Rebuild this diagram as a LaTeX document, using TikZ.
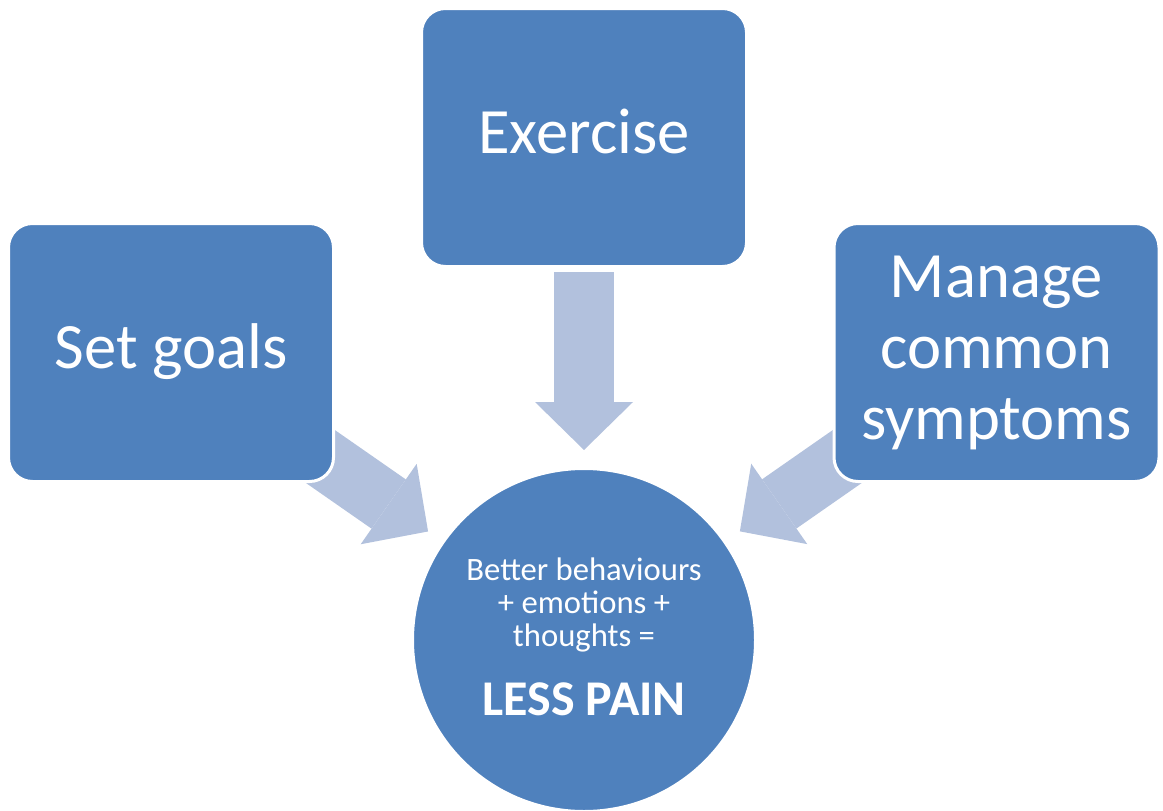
\documentclass[tikz,border=0pt]{standalone}
\usepackage{fontspec}
\setmainfont{Carlito}
\usetikzlibrary{arrows.meta,backgrounds}
\definecolor{boxblue}{HTML}{4F81BD}
\definecolor{flowblue}{HTML}{B2C1DD}
\begin{document}
\begin{tikzpicture}[x=0.75pt,y=-0.75pt,
  stepbox/.style={rectangle, rounded corners=18pt, fill=boxblue, draw=white,
    line width=2.25pt, minimum width=243.75pt, minimum height=193.5pt,
    inner sep=0pt, text=white, align=center,
    font=\fontsize{48.5}{53.25}\selectfont, text height=36.4pt, text depth=12.1pt},
  resultnode/.style={circle, fill=boxblue, draw=white, line width=2.25pt,
    minimum size=257.25pt, inner sep=0pt, text=white, align=center,
    font=\fontsize{24.5}{24.75}\selectfont, text height=121.9pt, text depth=9.4pt},
  flow/.style={draw=flowblue, line width=45pt,
    -{Triangle[length=36pt,width=73.5pt,line width=0pt]}}]
\useasboundingbox (0,0) rectangle (1163,810);

% the three steps and the result they lead to
\node[stepbox] (ex) at (584,137.5) {Exercise};
\node[stepbox] (goals) at (171,352.5) {Set goals};
\node[stepbox, text height=142.9pt] (sym) at (996.5,352.5) {Manage\\common\\symptoms};
\node[resultnode] (res) at (584,640)
  {Better behaviours\\+ emotions +\\thoughts =\\[21.5pt]{\fontsize{37.5}{37.5}\selectfont\bfseries LESS PAIN}};

% wide block arrows, drawn underneath the boxes
\begin{scope}[on background layer]
  \draw[flow, shorten <=100.9pt, shorten >=142.5pt] (ex.center) -- (res.center);
  \draw[flow, shorten <=112.5pt, shorten >=142.5pt] (goals.center) -- (res.center);
  \draw[flow, shorten <=112.5pt, shorten >=142.5pt] (sym.center) -- (res.center);
\end{scope}
\end{tikzpicture}
\end{document}
